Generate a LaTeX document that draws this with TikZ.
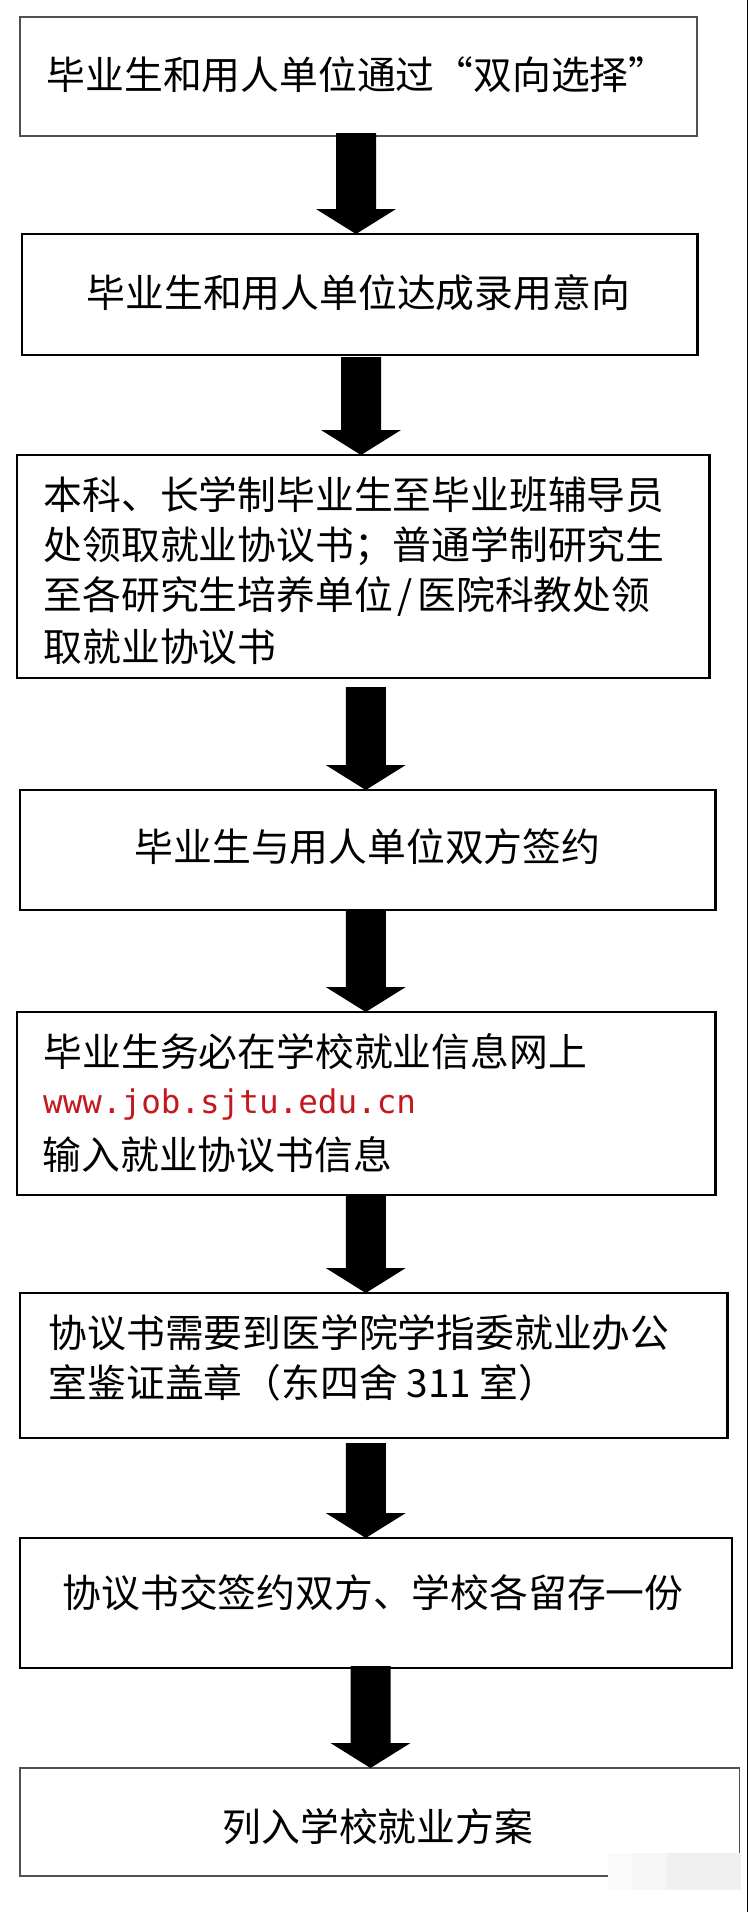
\documentclass[tikz,border=0pt]{standalone}
\usepackage{fontspec}
\newfontfamily\cjk{Noto Sans CJK SC}
\newfontfamily\urlfont{DejaVu Sans Mono}
\usetikzlibrary{calc}
\definecolor{urlred}{RGB}{196,24,30}
\definecolor{thinline}{RGB}{80,80,80}
\newcommand\blockarrow[2]{%
  \fill[bigarrow] ($(#1)+(-20,0)$) -- ($(#1)+(20,0)$) -- ($(#2)+(20,-25)$) -- ($(#2)+(40,-25)$) -- (#2) -- ($(#2)+(-40,-25)$) -- ($(#2)+(-20,-25)$) -- cycle;}
\begin{document}
\begin{tikzpicture}[x=1pt,y=-1pt,
  thickbox/.style={draw=black, line width=2.4pt, inner sep=0pt, outer sep=0pt, rectangle},
  thinbox/.style={draw=thinline, line width=1.1pt, inner sep=0pt, outer sep=0pt, rectangle},
  cjktxt/.style={font=\cjk\fontsize{38.8pt}{46pt}\selectfont, inner sep=0pt, anchor=base west, text=black},
  urltxt/.style={font=\urlfont\fontsize{32.6pt}{38pt}\selectfont, inner sep=0pt, anchor=base west, text=urlred},
  bigarrow/.style={fill=black}]
\useasboundingbox[fill=white] (0,0) rectangle (748,1912);

% boxes
\node[thinbox,  minimum width=677pt,   minimum height=119pt] (b1) at (358.5,76.5) {};
\node[thickbox, minimum width=675.5pt, minimum height=121pt] (b2) at (359.75,294.5) {};
\node[thickbox, minimum width=692.5pt, minimum height=223pt] (b3) at (363.25,566.5) {};
\node[thickbox, minimum width=695.5pt, minimum height=120pt] (b4) at (367.75,850) {};
\node[thickbox, minimum width=698.5pt, minimum height=183pt] (b5) at (366.25,1103.5) {};
\node[thickbox, minimum width=707.5pt, minimum height=145pt] (b6) at (373.75,1365.5) {};
\node[thickbox, minimum width=712pt,   minimum height=130pt] (b7) at (376,1603) {};
\node[thinbox,  minimum width=719.5pt, minimum height=108pt] (b8) at (379.75,1822) {};

% texts
\node[cjktxt] (t1) at (46.5,89.7) {毕业生和用人单位通过\makebox[38.8pt][l]{“}双向选择\makebox[38.8pt][l]{”}};
\node[cjktxt] (t2) at (86.5,307.7) {毕业生和用人单位达成录用意向};
\node[cjktxt] (t3a) at (43.5,509.7) {本科、长学制毕业生至毕业班辅导员};
\node[cjktxt] (t3b) at (43.5,559.7) {处领取就业协议书；普通学制研究生};
\node[cjktxt] (t3c) at (43.5,609.7) {至各研究生培养单位\makebox[24.7pt][c]{/}医院科教处领};
\node[cjktxt] (t3d) at (43.5,661.7) {取就业协议书};
\node[cjktxt] (t4) at (134.5,861.7) {毕业生与用人单位双方签约};
\node[cjktxt] (t5a) at (43.5,1066.7) {毕业生务必在学校就业信息网上};
\node[urltxt] (t5b) at (43,1113.3) {www.job.sjtu.edu.cn};
\node[cjktxt] (t5c) at (42.5,1169.7) {输入就业协议书信息};
\node[cjktxt] (t6a) at (48.5,1347.7) {协议书需要到医学院学指委就业办公};
\node[cjktxt] (t6b) at (48.5,1397.7) {室鉴证盖章（东四舍 311 室）};
\node[cjktxt] (t7) at (62.5,1607.7) {协议书交签约双方、学校各留存一份};
\node[cjktxt] (t8) at (222.5,1841.7) {列入学校就业方案};

% arrows
\coordinate (a1) at (356,133);
\coordinate (a1t) at (a1 |- b2.north);
\coordinate (a2) at (361,357);
\coordinate (a2t) at (a2 |- b3.north);
\coordinate (a3) at (365.75,687);
\coordinate (a3t) at (a3 |- b4.north);
\coordinate (a4) at (365.75,910);
\coordinate (a4t) at (a4 |- b5.north);
\coordinate (a5) at (365.75,1195);
\coordinate (a5t) at (a5 |- b6.north);
\coordinate (a6) at (365.75,1443);
\coordinate (a6t) at (a6 |- b7.north);
\coordinate (a7) at (370.5,1666);
\coordinate (a7t) at (a7 |- b8.north);
\blockarrow{a1}{a1t}
\blockarrow{a2}{a2t}
\blockarrow{a3}{a3t}
\blockarrow{a4}{a4t}
\blockarrow{a5}{a5t}
\blockarrow{a6}{a6t}
\blockarrow{a7}{a7t}

% faint smudge at bottom right
\fill[gray!4] (608,1853) rectangle (632,1890);
\fill[gray!7] (632,1853) rectangle (666,1890);
\fill[gray!12] (666,1853) rectangle (741,1890);

% right page edge line
\draw[line width=1pt, black] (747.3,0) -- (747.3,1912);
\end{tikzpicture}
\end{document}
